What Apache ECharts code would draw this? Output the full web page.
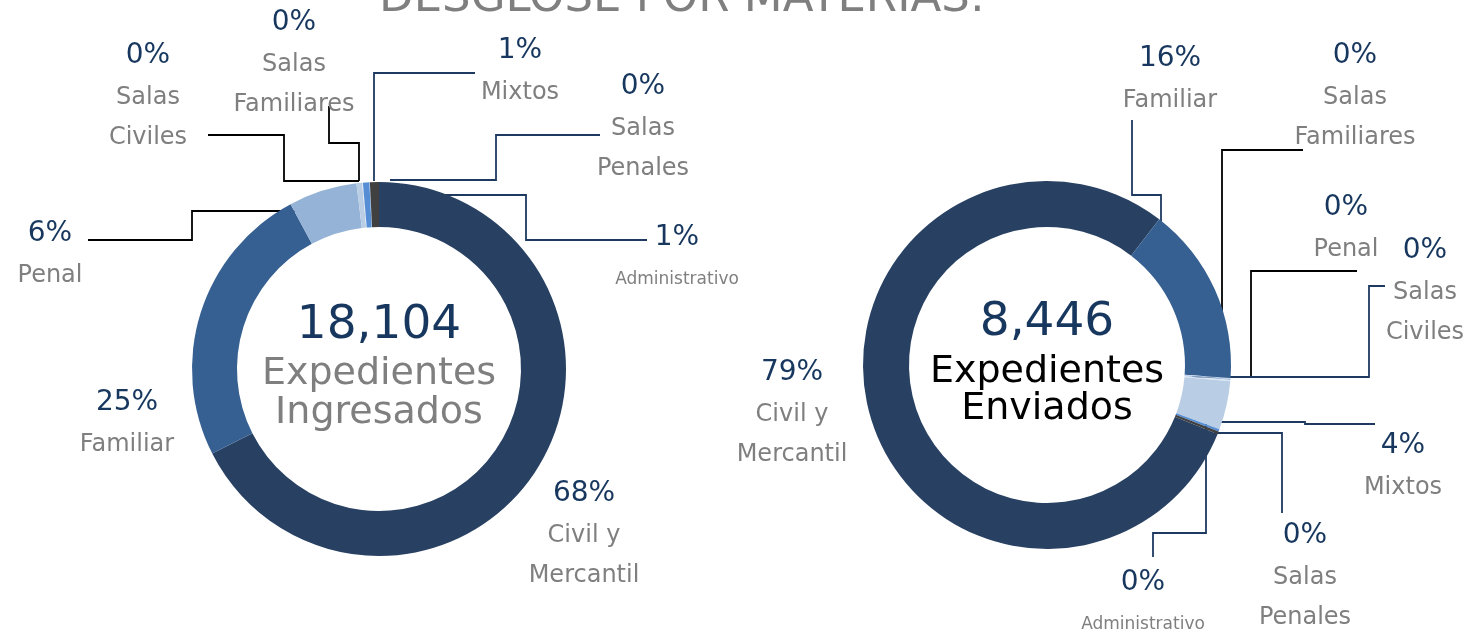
<!DOCTYPE html>
<html><head><meta charset="utf-8">
<script src="https://cdn.jsdelivr.net/npm/echarts@6/dist/echarts.min.js"></script>
<style>html,body{margin:0;padding:0;background:#fff}#c{width:1477px;height:637px}</style>
</head><body><div id="c"></div>
<script>
// ---------- DATA ----------
const titleText = 'DESGLOSE POR MATERIAS:';
const categoriesIngresados = ['Civil y Mercantil','Familiar','Penal','Salas Civiles','Salas Familiares','Mixtos','Salas Penales','Administrativo'];
const valuesIngresados = [12225, 4460, 1070, 88, 12, 100, 8, 141];
const centerTextIngresados = ['Expedientes', 'Ingresados'];

const categoriesEnviados = ['Civil y Mercantil','Familiar','Salas Familiares','Penal','Salas Civiles','Mixtos','Salas Penales','Administrativo'];
const valuesEnviados = [6700, 1325, 8, 6, 10, 360, 17, 20];
const centerTextEnviados = ['Expedientes', 'Enviados'];

// ---------- STYLE ----------
const FONT = 'DejaVu Sans';
const NAVY = '#17375E';
const GRAY = '#7F7F7F';
const LN = '#1F3A60';
const BK = '#000000';
const colorsIng = ['#284163','#376092','#95B3D7','#B9CDE5','#DCE6F2','#558ED5','#8EB4E3','#404040'];
const colorsEnv = ['#284163','#376092','#C6D9F1','#95B3D7','#DCE6F2','#B9CDE5','#558ED5','#404040'];

// label block centres and leader paths (layout only)
const layoutIng = [
  {x:584, y:534},
  {x:127, y:423},
  {x:50,  y:254, line:[[88,240],[192,240],[192,211],[298,211]], c:BK},
  {x:148, y:96,  line:[[208,135],[284,135],[284,181],[359,181]], c:BK},
  {x:294, y:63,  line:[[329,106],[329,143],[359,143],[359,181]], c:BK},
  {x:520, y:71,  line:[[475,73],[374,73],[374,181]], c:LN},
  {x:643, y:127, line:[[600,135],[496,135],[496,180],[390,180]], c:LN},
  {x:677, y:258, line:[[647,240],[526,240],[526,195],[405,195]], c:LN}
];
const layoutEnv = [
  {x:792,  y:413},
  {x:1170, y:79,  line:[[1132,120],[1132,195],[1161,195],[1161,270]], c:LN},
  {x:1355, y:96,  line:[[1303,150],[1222,150],[1222,377],[1192,377]], c:BK},
  {x:1346, y:228, line:[[1357,271],[1251,271],[1251,377],[1192,377]], c:BK},
  {x:1425, y:291, line:[[1385,286],[1369,286],[1369,377],[1192,377]], c:LN},
  {x:1403, y:466, line:[[1375,424],[1305,424],[1305,422],[1214,422]], c:LN},
  {x:1305, y:576, line:[[1282,513],[1282,433],[1214,433]], c:LN},
  {x:1143, y:603, line:[[1153,557],[1153,533],[1206,533],[1206,422]], c:LN}
];

function buildData(cats, vals, colors, lay) {
  return cats.map((c, i) => ({
    name: c, value: vals[i],
    itemStyle: {color: colors[i]},
    labelLine: {show: !!lay[i].line, lineStyle: {color: lay[i].c || LN, width: 1.8}}
  }));
}
function fmt(p) {
  const lines = p.name.replace(/ (\S+)$/, '\n$1').split('\n');
  const st = p.name === 'Administrativo' ? 's' : 'n';
  return '{p|' + Math.round(p.percent) + '%}\n' + lines.map(l => '{' + st + '|' + l + '}').join('\n');
}
const rich = {
  p: {fontFamily: FONT, fontSize: 28, color: NAVY, lineHeight: 44, align: 'center'},
  n: {fontFamily: FONT, fontSize: 24, color: GRAY, lineHeight: 40, align: 'center'},
  s: {fontFamily: FONT, fontSize: 17, color: GRAY, lineHeight: 40, align: 'center'}
};
function layoutFn(lay) {
  return function (params) {
    const c = lay[params.dataIndex];
    const o = {x: c.x, y: c.y, align: 'center', verticalAlign: 'middle'};
    if (c.line) o.labelLinePoints = c.line.map(pt => pt.slice());
    return o;
  };
}
const sum = a => a.reduce((s, v) => s + v, 0);

function centerTexts(cx, ys, total, lines, color2) {
  const arr = [{type: 'text', x: cx, y: ys[0], style: {text: total.toLocaleString('en-US'), fontFamily: FONT, fontSize: 47, fill: NAVY, align: 'center', textAlign: 'center', verticalAlign: 'middle', textVerticalAlign: 'middle'}}];
  lines.forEach((t, i) => arr.push({type: 'text', x: cx, y: ys[i + 1], style: {text: t, fontFamily: FONT, fontSize: 38, fill: color2, align: 'center', textAlign: 'center', verticalAlign: 'middle', textVerticalAlign: 'middle'}}));
  return arr;
}

const chart = echarts.init(document.getElementById('c'), null, {renderer: 'canvas'});
chart.setOption({
  backgroundColor: '#fff',
  animation: false,
  title: {text: titleText, left: 374, top: -28, textStyle: {fontFamily: FONT, fontSize: 45, fontWeight: 'normal', color: GRAY}},
  graphic: [].concat(
    centerTexts(379, [326, 374, 413], sum(valuesIngresados), centerTextIngresados, GRAY),
    centerTexts(1047, [323, 372, 409], sum(valuesEnviados), centerTextEnviados, '#000000')
  ),
  series: [
    {
      type: 'pie', center: [379, 369], radius: [142, 187], startAngle: 90, clockwise: true,
      avoidLabelOverlap: false, emphasis: {disabled: true},
      label: {show: true, position: 'outside', formatter: fmt, rich: rich},
      labelLine: {show: true, smooth: false},
      labelLayout: layoutFn(layoutIng),
      data: buildData(categoriesIngresados, valuesIngresados, colorsIng, layoutIng)
    },
    {
      type: 'pie', center: [1047, 365], radius: [138, 184], startAngle: -22, clockwise: true,
      avoidLabelOverlap: false, emphasis: {disabled: true},
      label: {show: true, position: 'outside', formatter: fmt, rich: rich},
      labelLine: {show: true, smooth: false},
      labelLayout: layoutFn(layoutEnv),
      data: buildData(categoriesEnviados, valuesEnviados, colorsEnv, layoutEnv)
    }
  ]
});
</script></body></html>
